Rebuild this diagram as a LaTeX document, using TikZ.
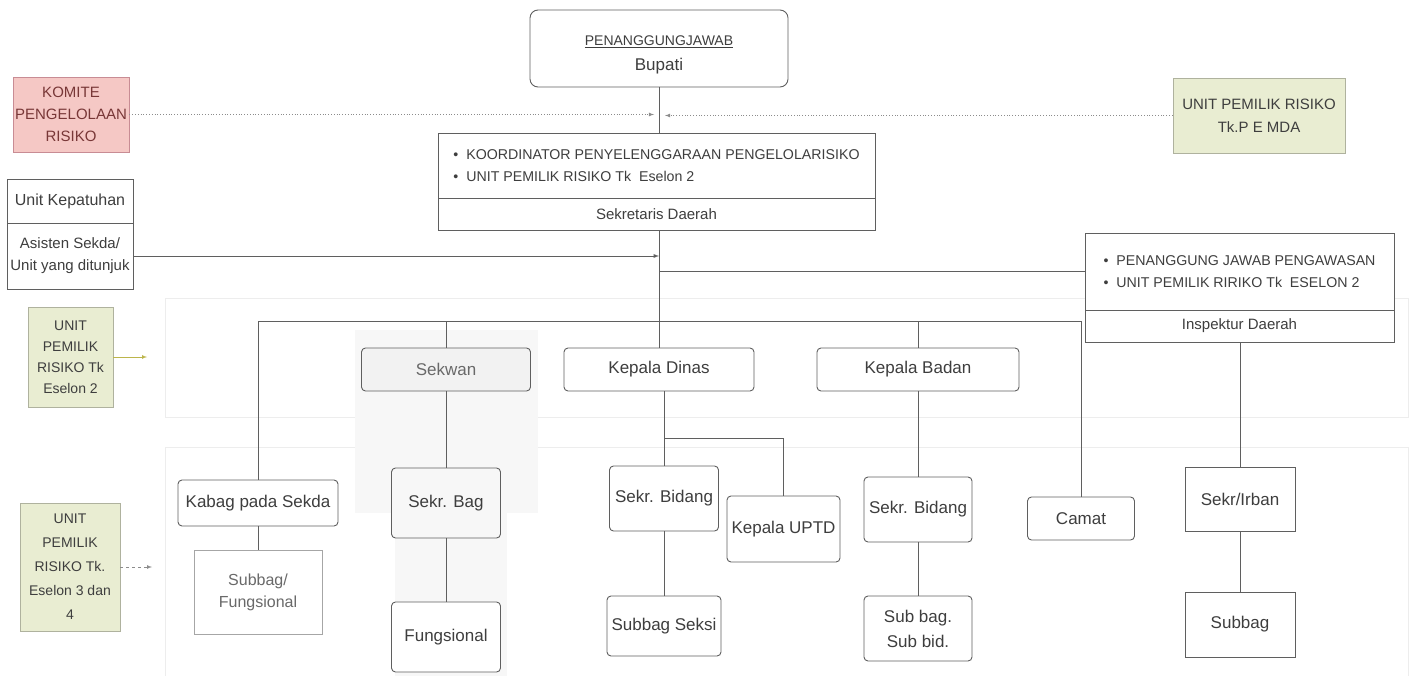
\documentclass[tikz,border=0pt]{standalone}
\usepackage{fontspec}
\setmainfont{Liberation Sans}
\usetikzlibrary{arrows}
\definecolor{linegray}{RGB}{95,95,95}
\definecolor{txtgray}{RGB}{62,62,62}
\definecolor{lighttxt}{RGB}{105,105,105}
\definecolor{pinkfill}{RGB}{245,200,197}
\definecolor{pinkline}{RGB}{200,140,148}
\definecolor{pinktxt}{RGB}{120,55,55}
\definecolor{greenfill}{RGB}{233,237,210}
\definecolor{greenline}{RGB}{175,178,158}
\tikzset{
    sz/.style 2 args={minimum width=#1pt, minimum height=#2pt},
    orgbox/.style={draw=linegray, rounded corners=4pt, fill=white, text=txtgray, inner sep=0pt,
        line width=0.9pt, align=center, font=\fontsize{17}{25}\selectfont},
    flatbox/.style={draw=linegray, fill=white, text=txtgray, inner sep=0pt,
        line width=0.9pt, align=center, font=\fontsize{15}{22}\selectfont},
    listbox/.style={flatbox, align=left, font=\fontsize{14.2}{22}\selectfont},
    riskbox/.style={draw=greenline, fill=greenfill, text=txtgray, inner sep=0pt,
        line width=0.8pt, align=center, font=\fontsize{14}{21}\selectfont},
    komitebox/.style={draw=pinkline, fill=pinkfill, text=pinktxt, inner sep=0pt,
        line width=0.8pt, align=center, font=\fontsize{15}{22}\selectfont},
    conn/.style={draw=linegray, line width=0.9pt},
    dotconn/.style={draw=black!45, dotted, line width=0.8pt, -latex},
    sideconn/.style={draw=black!45, line width=0.7pt, -latex},
    bandline/.style={draw=black!7, line width=1pt},
}

\begin{document}
\begin{tikzpicture}[x=1pt, y=-1pt]
    \useasboundingbox (0,0) rectangle (1415,676);
    % faint background bands
    \draw[bandline] (165,298) rectangle (1408,417);
    \draw[bandline] (165,447) rectangle (1408,676);
    \fill[black!3] (355,330) rectangle (538,513);
    \fill[black!3] (395,513) rectangle (507,676);

    % top level
    \node[orgbox, rounded corners=8pt, sz={258}{77}, text height=47pt] (bupati) at (659,48.5)
        {{\fontsize{14}{21}\selectfont\underline{PENANGGUNGJAWAB}}\\Bupati};
    \node[komitebox, sz={116}{75}] (komite) at (71,114.5) {KOMITE\\PENGELOLAAN\\RISIKO};
    \node[riskbox, sz={172}{75}, font=\fontsize{15}{23}\selectfont] (pemda) at (1259,115.5)
        {UNIT PEMILIK RISIKO\\Tk.P E MDA};

    \node[listbox, sz={437}{65}] (sekdatop) at (656.5,165.5)
        {\textbullet\ \ KOORDINATOR PENYELENGGARAAN PENGELOLARISIKO\\
         \textbullet\ \ UNIT PEMILIK RISIKO Tk\ \ Eselon 2};
    \node[flatbox, sz={437}{32}] (sekda) at (656.5,214) {Sekretaris Daerah};

    \node[flatbox, sz={126}{44}, font=\fontsize{16}{22}\selectfont] (kepatuhan) at (70,201) {Unit Kepatuhan};
    \node[flatbox, sz={126}{66}] (asisten) at (70,256) {Asisten Sekda/\\Unit yang ditunjuk};

    \node[listbox, sz={309}{77}] (insptop) at (1239.5,271.5)
        {\textbullet\ \ PENANGGUNG JAWAB PENGAWASAN\\
         \textbullet\ \ UNIT PEMILIK RIRIKO Tk\ \ ESELON 2};
    \node[flatbox, sz={309}{32}] (insp) at (1239.5,326) {Inspektur Daerah};

    % side labels
    \node[riskbox, sz={85}{100}] (eselon2) at (70.5,357) {UNIT\\PEMILIK\\RISIKO Tk\\Eselon 2};
    \node[riskbox, sz={100}{128}, font=\fontsize{14}{24}\selectfont] (eselon34) at (70,567)
        {UNIT\\PEMILIK\\RISIKO Tk.\\Eselon 3 dan\\4};
    \coordinate (e2tip) at (147,357);
    \coordinate (e34tip) at (152,567);

    % eselon 2 row
    \node[orgbox, sz={169}{43}, fill=black!5, text=lighttxt] (sekwan) at (446,369.5) {Sekwan};
    \node[orgbox, sz={190}{43}] (kadis) at (659,369.5) {Kepala Dinas};
    \node[orgbox, sz={202}{43}] (kaban) at (918,369.5) {Kepala Badan};

    % eselon 3 and 4 rows
    \node[orgbox, sz={160}{46}] (kabag) at (258,503) {Kabag pada Sekda};
    \node[flatbox, sz={128}{84}, draw=black!35, text=lighttxt, font=\fontsize{16}{22}\selectfont] (subfung) at (258,592)
        {Subbag/\\Fungsional};
    \node[orgbox, sz={109}{70}, fill=black!3] (sekrbag) at (446,503) {Sekr. Bag};
    \node[orgbox, sz={109}{70}] (fungsional) at (446,637) {Fungsional};
    \node[orgbox, sz={109}{65}] (sekrbid1) at (664,498.5) {Sekr. Bidang};
    \node[orgbox, sz={113}{66}] (uptd) at (783.5,529) {Kepala UPTD};
    \node[orgbox, sz={114}{60}] (subseksi) at (664,626) {Subbag Seksi};
    \node[orgbox, sz={108}{65}] (sekrbid2) at (918,509.5) {Sekr. Bidang};
    \node[orgbox, sz={108}{65}] (subbid) at (918,628.5) {Sub bag.\\Sub bid.};
    \node[orgbox, sz={107}{43}] (camat) at (1081,518.5) {Camat};
    \node[flatbox, sz={110}{64}, font=\fontsize{17}{22}\selectfont] (irban) at (1240,499) {Sekr/Irban};
    \node[flatbox, sz={110}{65}, font=\fontsize{17}{22}\selectfont] (subbag) at (1240,624.5) {Subbag};
    \coordinate (busR) at (1081,321);

    % connectors
    \draw[conn] (bupati.south) -- (bupati.south |- sekdatop.north);
    \draw[conn] (sekda.south -| bupati) -- (kadis.north);
    \draw[conn,-latex] (asisten.east) -- (asisten.east -| bupati);
    \draw[conn] (insptop.west -| bupati) -- (insptop.west);
    \draw[conn] (kabag.north) |- (busR) -- (camat.north);
    \draw[conn] (sekwan.north) -- (sekwan.north |- busR);
    \draw[conn] (kaban.north) -- (kaban.north |- busR);
    \draw[conn] (kabag.south) -- (subfung.north);
    \draw[conn] (sekwan.south) -- (sekrbag.north);
    \draw[conn] (sekrbag.south) -- (fungsional.north);
    \draw[conn] (kadis.south -| sekrbid1) -- (sekrbid1.north);
    \draw[conn] (kadis.south -| sekrbid1) ++(0,47) -| (uptd.north);
    \draw[conn] (sekrbid1.south) -- (subseksi.north);
    \draw[conn] (kaban.south) -- (sekrbid2.north);
    \draw[conn] (sekrbid2.south) -- (subbid.north);
    \draw[conn] (insp.south -| irban) -- (irban.north);
    \draw[conn] (irban.south) -- (subbag.north);
    \draw[dotconn, shorten >=5pt] (komite.east) -- (komite.east -| bupati);
    \draw[dotconn, shorten >=6pt] (pemda.west) -- (pemda.west -| bupati);
    \draw[sideconn, draw=olive!60] (eselon2.east) -- (e2tip);
    \draw[sideconn, dashed] (eselon34.east) -- (e34tip);
\end{tikzpicture}
\end{document}
